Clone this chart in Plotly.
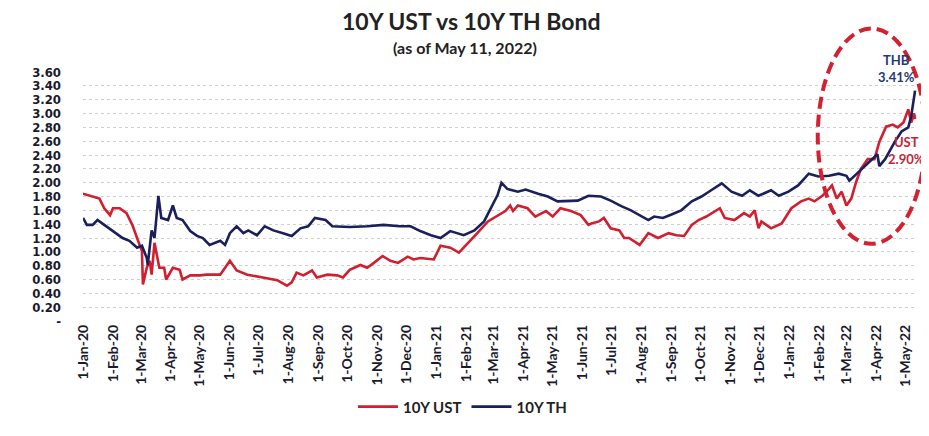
import plotly.graph_objects as go

# ---- data ----
ust_dates = ["2020-01-01","2020-01-11","2020-01-18","2020-01-23","2020-01-29","2020-02-01","2020-02-08","2020-02-15","2020-02-21","2020-02-27",
             "2020-03-02","2020-03-03","2020-03-07","2020-03-10","2020-03-12","2020-03-15","2020-03-18","2020-03-20","2020-03-25","2020-03-27",
             "2020-04-03","2020-04-10","2020-04-13","2020-04-21","2020-05-01","2020-05-08","2020-05-22","2020-06-01","2020-06-08","2020-06-19",
             "2020-07-05","2020-07-20","2020-07-30","2020-08-04","2020-08-09","2020-08-16","2020-08-25","2020-08-30","2020-09-10","2020-09-20",
             "2020-09-26","2020-10-03","2020-10-14","2020-10-21","2020-10-27","2020-11-06","2020-11-14","2020-11-22","2020-12-02","2020-12-08",
             "2020-12-15","2020-12-29","2021-01-05","2021-01-15","2021-01-24","2021-02-02","2021-02-12","2021-02-23","2021-03-03","2021-03-13",
             "2021-03-18","2021-03-21","2021-03-26","2021-04-05","2021-04-13","2021-04-24","2021-05-01","2021-05-09","2021-05-20","2021-05-30",
             "2021-06-07","2021-06-10","2021-06-18","2021-06-23","2021-06-30","2021-07-09","2021-07-14","2021-07-19","2021-07-30","2021-08-08",
             "2021-08-18","2021-08-29","2021-09-06","2021-09-14","2021-09-22","2021-09-29","2021-10-07","2021-10-16","2021-10-21","2021-10-26",
             "2021-11-05","2021-11-15","2021-11-21","2021-11-26","2021-11-30","2021-12-03","2021-12-13","2021-12-24","2022-01-03","2022-01-13",
             "2022-01-21","2022-01-27","2022-02-04","2022-02-11","2022-02-14","2022-02-19","2022-02-24","2022-03-01","2022-03-06","2022-03-11",
             "2022-03-16","2022-03-23","2022-03-30","2022-04-04","2022-04-11","2022-04-18","2022-04-23","2022-04-29","2022-05-04","2022-05-07",
             "2022-05-10","2022-05-11"]
ust_values = [1.84,1.80,1.77,1.63,1.53,1.63,1.63,1.56,1.39,1.16,
              1.01,0.53,0.77,0.87,0.67,1.13,0.91,0.77,0.77,0.60,
              0.77,0.74,0.60,0.66,0.66,0.67,0.67,0.87,0.73,0.67,
              0.63,0.59,0.51,0.56,0.70,0.66,0.73,0.63,0.67,0.66,
              0.63,0.74,0.81,0.77,0.83,0.94,0.87,0.84,0.93,0.89,
              0.91,0.89,1.09,1.06,0.99,1.13,1.27,1.44,1.51,1.59,
              1.67,1.59,1.67,1.63,1.51,1.59,1.51,1.63,1.59,1.53,
              1.39,1.41,1.44,1.49,1.34,1.31,1.20,1.20,1.10,1.27,
              1.20,1.27,1.24,1.23,1.39,1.46,1.51,1.59,1.63,1.49,
              1.46,1.56,1.51,1.60,1.34,1.44,1.34,1.41,1.63,1.73,
              1.77,1.73,1.81,1.91,1.96,1.77,1.87,1.67,1.77,2.01,
              2.20,2.34,2.34,2.59,2.81,2.84,2.80,2.87,3.06,2.87,
              3.00,2.92]

th_dates = ["2020-01-01","2020-01-05","2020-01-11","2020-01-16","2020-01-23","2020-02-01","2020-02-11","2020-02-18","2020-02-26","2020-03-02",
            "2020-03-07","2020-03-08","2020-03-12","2020-03-15","2020-03-19","2020-03-22","2020-03-29","2020-04-03","2020-04-07","2020-04-13",
            "2020-04-21","2020-04-28","2020-05-04","2020-05-11","2020-05-22","2020-05-27","2020-06-01","2020-06-08","2020-06-15","2020-06-20",
            "2020-06-29","2020-07-07","2020-07-16","2020-07-26","2020-08-04","2020-08-13","2020-08-21","2020-08-28","2020-09-08","2020-09-15",
            "2020-10-03","2020-10-21","2020-11-07","2020-11-24","2020-12-05","2020-12-15","2020-12-26","2021-01-05","2021-01-15","2021-01-29",
            "2021-02-09","2021-02-19","2021-02-26","2021-03-05","2021-03-09","2021-03-15","2021-03-26","2021-04-03","2021-04-16","2021-04-26",
            "2021-05-06","2021-05-17","2021-05-27","2021-06-07","2021-06-20","2021-06-30","2021-07-11","2021-07-21","2021-07-30","2021-08-08",
            "2021-08-14","2021-08-23","2021-09-01","2021-09-11","2021-09-22","2021-10-02","2021-10-12","2021-10-23","2021-11-02","2021-11-13",
            "2021-11-21","2021-11-30","2021-12-13","2021-12-21","2021-12-31","2022-01-10","2022-01-21","2022-01-31","2022-02-11","2022-02-21",
            "2022-03-01","2022-03-04","2022-03-14","2022-03-20","2022-03-27","2022-04-02","2022-04-04","2022-04-10","2022-04-20","2022-04-27",
            "2022-05-04","2022-05-07","2022-05-11"]
th_values = [1.49,1.39,1.39,1.46,1.39,1.30,1.20,1.16,1.06,1.09,
             0.91,0.81,1.31,1.20,1.81,1.49,1.46,1.67,1.49,1.46,
             1.30,1.23,1.20,1.10,1.16,1.10,1.27,1.37,1.27,1.31,
             1.24,1.37,1.31,1.27,1.23,1.34,1.37,1.49,1.46,1.37,
             1.36,1.37,1.39,1.37,1.37,1.30,1.24,1.20,1.30,1.24,
             1.31,1.44,1.63,1.82,2.00,1.91,1.87,1.90,1.84,1.80,
             1.73,1.73,1.74,1.81,1.80,1.74,1.66,1.60,1.53,1.46,
             1.51,1.49,1.54,1.60,1.73,1.80,1.89,1.99,1.87,1.81,
             1.89,1.81,1.89,1.81,1.87,1.96,2.13,2.09,2.10,2.13,
             2.10,2.03,2.16,2.24,2.34,2.41,2.24,2.34,2.59,2.74,
             2.80,2.96,3.33]

y_tick_vals = [0, 0.2, 0.4, 0.6, 0.8, 1.0, 1.2, 1.4, 1.6, 1.8, 2.0, 2.2, 2.4, 2.6, 2.8, 3.0, 3.2, 3.4, 3.6]
y_tick_text = ["-", "0.20", "0.40", "0.60", "0.80", "1.00", "1.20", "1.40", "1.60", "1.80", "2.00",
               "2.20", "2.40", "2.60", "2.80", "3.00", "3.20", "3.40", "3.60"]

RED = "#d11f2f"
NAVY = "#1b1f5c"
FONT = "Lato"
TICKFONT = "DejaVu Sans Condensed"

fig = go.Figure()
fig.add_trace(go.Scatter(x=ust_dates, y=ust_values, mode="lines", name="10Y UST",
                         line=dict(color=RED, width=2.6)))
fig.add_trace(go.Scatter(x=th_dates, y=th_values, mode="lines", name="10Y TH",
                         line=dict(color=NAVY, width=2.6)))

# the page body has an 8px default margin, so the figure is sized to fit the window
fig.update_layout(
    width=921, height=428,
    margin=dict(l=75, r=12, t=64, b=112),
    paper_bgcolor="white", plot_bgcolor="white",
    font=dict(family=FONT, color="#1a1a2e"),
    showlegend=True,
    legend=dict(orientation="h", x=0.455, xanchor="center", y=-0.345, yanchor="middle",
                font=dict(family=FONT, size=15, color="#222222", weight="bold"), itemwidth=40,
                traceorder="normal"),
    xaxis=dict(
        type="date", range=["2020-01-01", "2022-05-13"],
        tickformat="%-d-%b-%y", dtick="M1", tick0="2020-01-01",
        tickangle=-90, tickfont=dict(family=FONT, size=14, color="#1a1a2e", weight="bold"),
        showgrid=False, showline=False, zeroline=False, ticks=""),
    yaxis=dict(
        range=[0, 3.6], tickvals=y_tick_vals, ticktext=y_tick_text,
        tickfont=dict(family=TICKFONT, size=13, color="#1a1a2e", weight="bold"),
        showgrid=True, gridcolor="#cfcfcf", griddash="dot", gridwidth=1,
        zeroline=False, showline=False, ticklabelstandoff=21),
)

# title and subtitle
fig.add_annotation(xref="paper", yref="paper", x=0.465, y=1.206, xanchor="center", yanchor="middle",
                   text="<b>10Y UST vs 10Y TH Bond</b>", showarrow=False,
                   font=dict(family=FONT, size=23, color="#222222"))
fig.add_annotation(xref="paper", yref="paper", x=0.458, y=1.099, xanchor="center", yanchor="middle",
                   text="<b>(as of May 11, 2022)</b>", showarrow=False,
                   font=dict(family=FONT, size=16, color="#222222"))

# dashed red ellipse highlighting the recent period
fig.add_shape(type="circle", xref="paper", yref="paper",
              x0=0.881, x1=1.01, y0=0.31, y1=1.175,
              line=dict(color="#d42030", width=4, dash="12px,6px"))

fig.add_annotation(xref="paper", yref="paper", x=0.975, y=0.94, xanchor="center", yanchor="bottom",
                   text="<b>THB<br>3.41%</b>", showarrow=False, align="center",
                   font=dict(family=FONT, size=13, color="#1f3a78"))
fig.add_annotation(xref="paper", yref="paper", x=1.012, y=0.61, xanchor="right", yanchor="bottom",
                   text="<b>UST<br>2.90%</b>", showarrow=False, align="center",
                   font=dict(family=FONT, size=13, color="#c0283a"))

fig.write_html("out.html")
